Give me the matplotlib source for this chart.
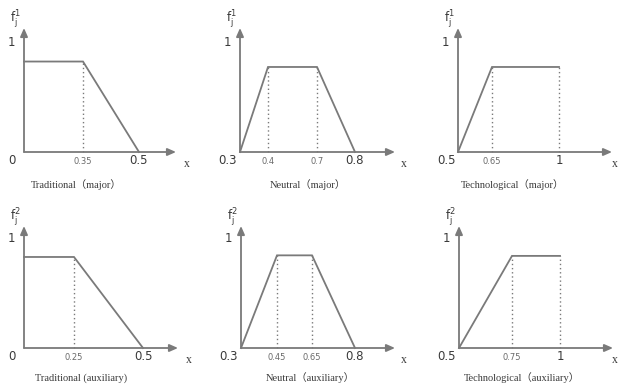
import numpy as np
import matplotlib
matplotlib.use("Agg")
import matplotlib.pyplot as plt

# ---------------- data ----------------
titles = ["Traditional（major）", "Neutral（major）", "Technological（major）",
          "Traditional (auxiliary)", "Neutral（auxiliary）", "Technological（auxiliary）"]
ylabel_sup = ["1", "1", "1", "2", "2", "2"]

trad_major_x = [0.0, 0.35, 0.5]
trad_major_y = [0.83, 0.83, 0.0]
neutral_major_x = [0.3, 0.4, 0.7, 0.8]
neutral_major_y = [0.0, 0.78, 0.78, 0.0]
tech_major_x = [0.5, 0.65, 1.0]
tech_major_y = [0.0, 0.78, 0.78]
trad_aux_x = [0.0, 0.25, 0.5]
trad_aux_y = [0.835, 0.835, 0.0]
neutral_aux_x = [0.3, 0.45, 0.65, 0.8]
neutral_aux_y = [0.0, 0.85, 0.85, 0.0]
tech_aux_x = [0.5, 0.75, 1.0]
tech_aux_y = [0.0, 0.845, 0.845]

series_x = [trad_major_x, neutral_major_x, tech_major_x, trad_aux_x, neutral_aux_x, tech_aux_x]
series_y = [trad_major_y, neutral_major_y, tech_major_y, trad_aux_y, neutral_aux_y, tech_aux_y]

origin_labels = ["0", "0.3", "0.5", "0", "0.3", "0.5"]
dotted_values = [[0.35], [0.4, 0.7], [0.65, 1.0], [0.25], [0.45, 0.65], [0.75, 1.0]]
small_tick_values = [[0.35], [0.4, 0.7], [0.65], [0.25], [0.45, 0.65], [0.75]]
small_tick_labels = [["0.35"], ["0.4", "0.7"], ["0.65"], ["0.25"], ["0.45", "0.65"], ["0.75"]]
big_tick_values = [[0.5], [0.8], [1.0], [0.5], [0.8], [1.0]]
big_tick_labels = [["0.5"], ["0.8"], ["1"], ["0.5"], ["0.8"], ["1"]]

# ---------------- layout (pixels) ----------------
W, H = 622, 385
origin_px = [(24, 152), (240, 152), (458, 152), (24, 348), (241, 348), (459, 348)]
axis_end_px = [176, 395, 612, 178, 395, 613]
axis_top_px = [28, 28, 28, 226, 226, 226]
knot_px = [[0, 59, 115], [0, 28, 77, 115], [0, 34, 101],
           [0, 50, 119], [0, 36, 71, 114], [0, 53, 101]]
title_dx_px = [52, 68, 55, 57, 69, 63]
title_dy_px = [33, 33, 33, 30, 30, 30]
xlab_dx_px = [11, 9, 3, 11, 9, 2]
unit_px = 109.0

line_col = "#7a7a7a"
text_col = "#3a3a3a"
small_col = "#6a6a6a"
PT = 0.72  # points per pixel at dpi 100


def make_scale(vals, px):
    vals = np.asarray(vals, float)
    px = np.asarray(px, float)
    s_lo = (px[1] - px[0]) / (vals[1] - vals[0])
    s_hi = (px[-1] - px[-2]) / (vals[-1] - vals[-2])

    def fwd(v):
        v = np.asarray(v, float)
        out = np.interp(v, vals, px)
        out = np.where(v < vals[0], px[0] + (v - vals[0]) * s_lo, out)
        out = np.where(v > vals[-1], px[-1] + (v - vals[-1]) * s_hi, out)
        return out

    def inv(p):
        p = np.asarray(p, float)
        out = np.interp(p, px, vals)
        out = np.where(p < px[0], vals[0] + (p - px[0]) / s_lo, out)
        out = np.where(p > px[-1], vals[-1] + (p - px[-1]) / s_hi, out)
        return out

    return fwd, inv


fig = plt.figure(figsize=(W / 100, H / 100), dpi=100)
fig.patch.set_facecolor("white")

num_font = ["DejaVu Sans"]
title_font = ["Liberation Serif", "Noto Sans CJK SC"]

for i in range(6):
    ox, oy = origin_px[i]
    wpx = axis_end_px[i] - ox
    hpx = oy - axis_top_px[i]
    ax = fig.add_axes([ox / W, (H - oy) / H, wpx / W, hpx / H])
    ax.patch.set_alpha(0)
    xs = series_x[i]
    knot_vals = sorted(set([xs[0]] + [v for v in dotted_values[i] + big_tick_values[i] if v > xs[0]]))
    fwd, inv = make_scale(knot_vals, knot_px[i])
    ax.set_xscale("function", functions=(fwd, inv))
    ax.set_xlim(knot_vals[0], float(inv(wpx)))
    ax.set_ylim(0, hpx / unit_px)
    for s in ax.spines.values():
        s.set_visible(False)
    ax.set_xticks([])
    ax.set_yticks([])

    # membership function
    ax.plot(xs, series_y[i], color=line_col, lw=1.3, solid_joinstyle="miter",
            clip_on=False)
    # dotted verticals
    plateau = max(series_y[i])
    for v in dotted_values[i]:
        ax.plot([v, v], [0, plateau], color=line_col, lw=1.0, ls=(0, (1, 2)),
                clip_on=False)

    # axes with arrows
    ax.annotate("", xy=(1, 0), xytext=(0, 0), xycoords="axes fraction",
                arrowprops=dict(arrowstyle="-|>,head_length=0.5,head_width=0.22",
                                color=line_col, lw=1.3, shrinkA=0, shrinkB=0))
    ax.annotate("", xy=(0, 1), xytext=(0, 0), xycoords="axes fraction",
                arrowprops=dict(arrowstyle="-|>,head_length=0.5,head_width=0.22",
                                color=line_col, lw=1.3, shrinkA=0, shrinkB=0))

    # origin label
    ax.annotate(origin_labels[i], xy=(0, 0), xycoords="axes fraction",
                xytext=(-12 * PT, -9 * PT), textcoords="offset points",
                ha="center", va="center", fontsize=8.5, color=text_col,
                family=num_font)
    # small tick labels
    for v, lab in zip(small_tick_values[i], small_tick_labels[i]):
        ax.annotate(lab, xy=(v, 0), xycoords=("data", "data"),
                    xytext=(0, -9 * PT), textcoords="offset points",
                    ha="center", va="center", fontsize=6, color=small_col,
                    family=num_font)
    # big tick labels
    for v, lab in zip(big_tick_values[i], big_tick_labels[i]):
        ax.annotate(lab, xy=(v, 0), xycoords=("data", "data"),
                    xytext=(0, -9 * PT), textcoords="offset points",
                    ha="center", va="center", fontsize=8.5, color=text_col,
                    family=num_font)
    # x label
    ax.annotate("x", xy=(1, 0), xycoords="axes fraction",
                xytext=(xlab_dx_px[i] * PT, -12 * PT), textcoords="offset points",
                ha="center", va="center", fontsize=8.5, color=text_col,
                family=["Liberation Serif"])
    # y value "1"
    ax.annotate("1", xy=(0, 1.0), xycoords=("axes fraction", "data"),
                xytext=(-13 * PT, 0), textcoords="offset points",
                ha="center", va="center", fontsize=8.5, color=text_col,
                family=num_font)
    # y label f_j^k
    ax.annotate(r"$\mathregular{f_j^{%s}}$" % ylabel_sup[i], xy=(0, 1),
                xycoords="axes fraction", xytext=(-9 * PT, 8 * PT),
                textcoords="offset points", ha="center", va="center",
                fontsize=8.5, color=text_col, family=num_font)
    # title below
    ax.annotate(titles[i], xy=(0, 0), xycoords="axes fraction",
                xytext=(title_dx_px[i] * PT, -title_dy_px[i] * PT),
                textcoords="offset points",
                ha="center", va="center", fontsize=7.5, color=text_col,
                family=title_font)

fig.savefig("out.png", dpi=100, facecolor="white")
